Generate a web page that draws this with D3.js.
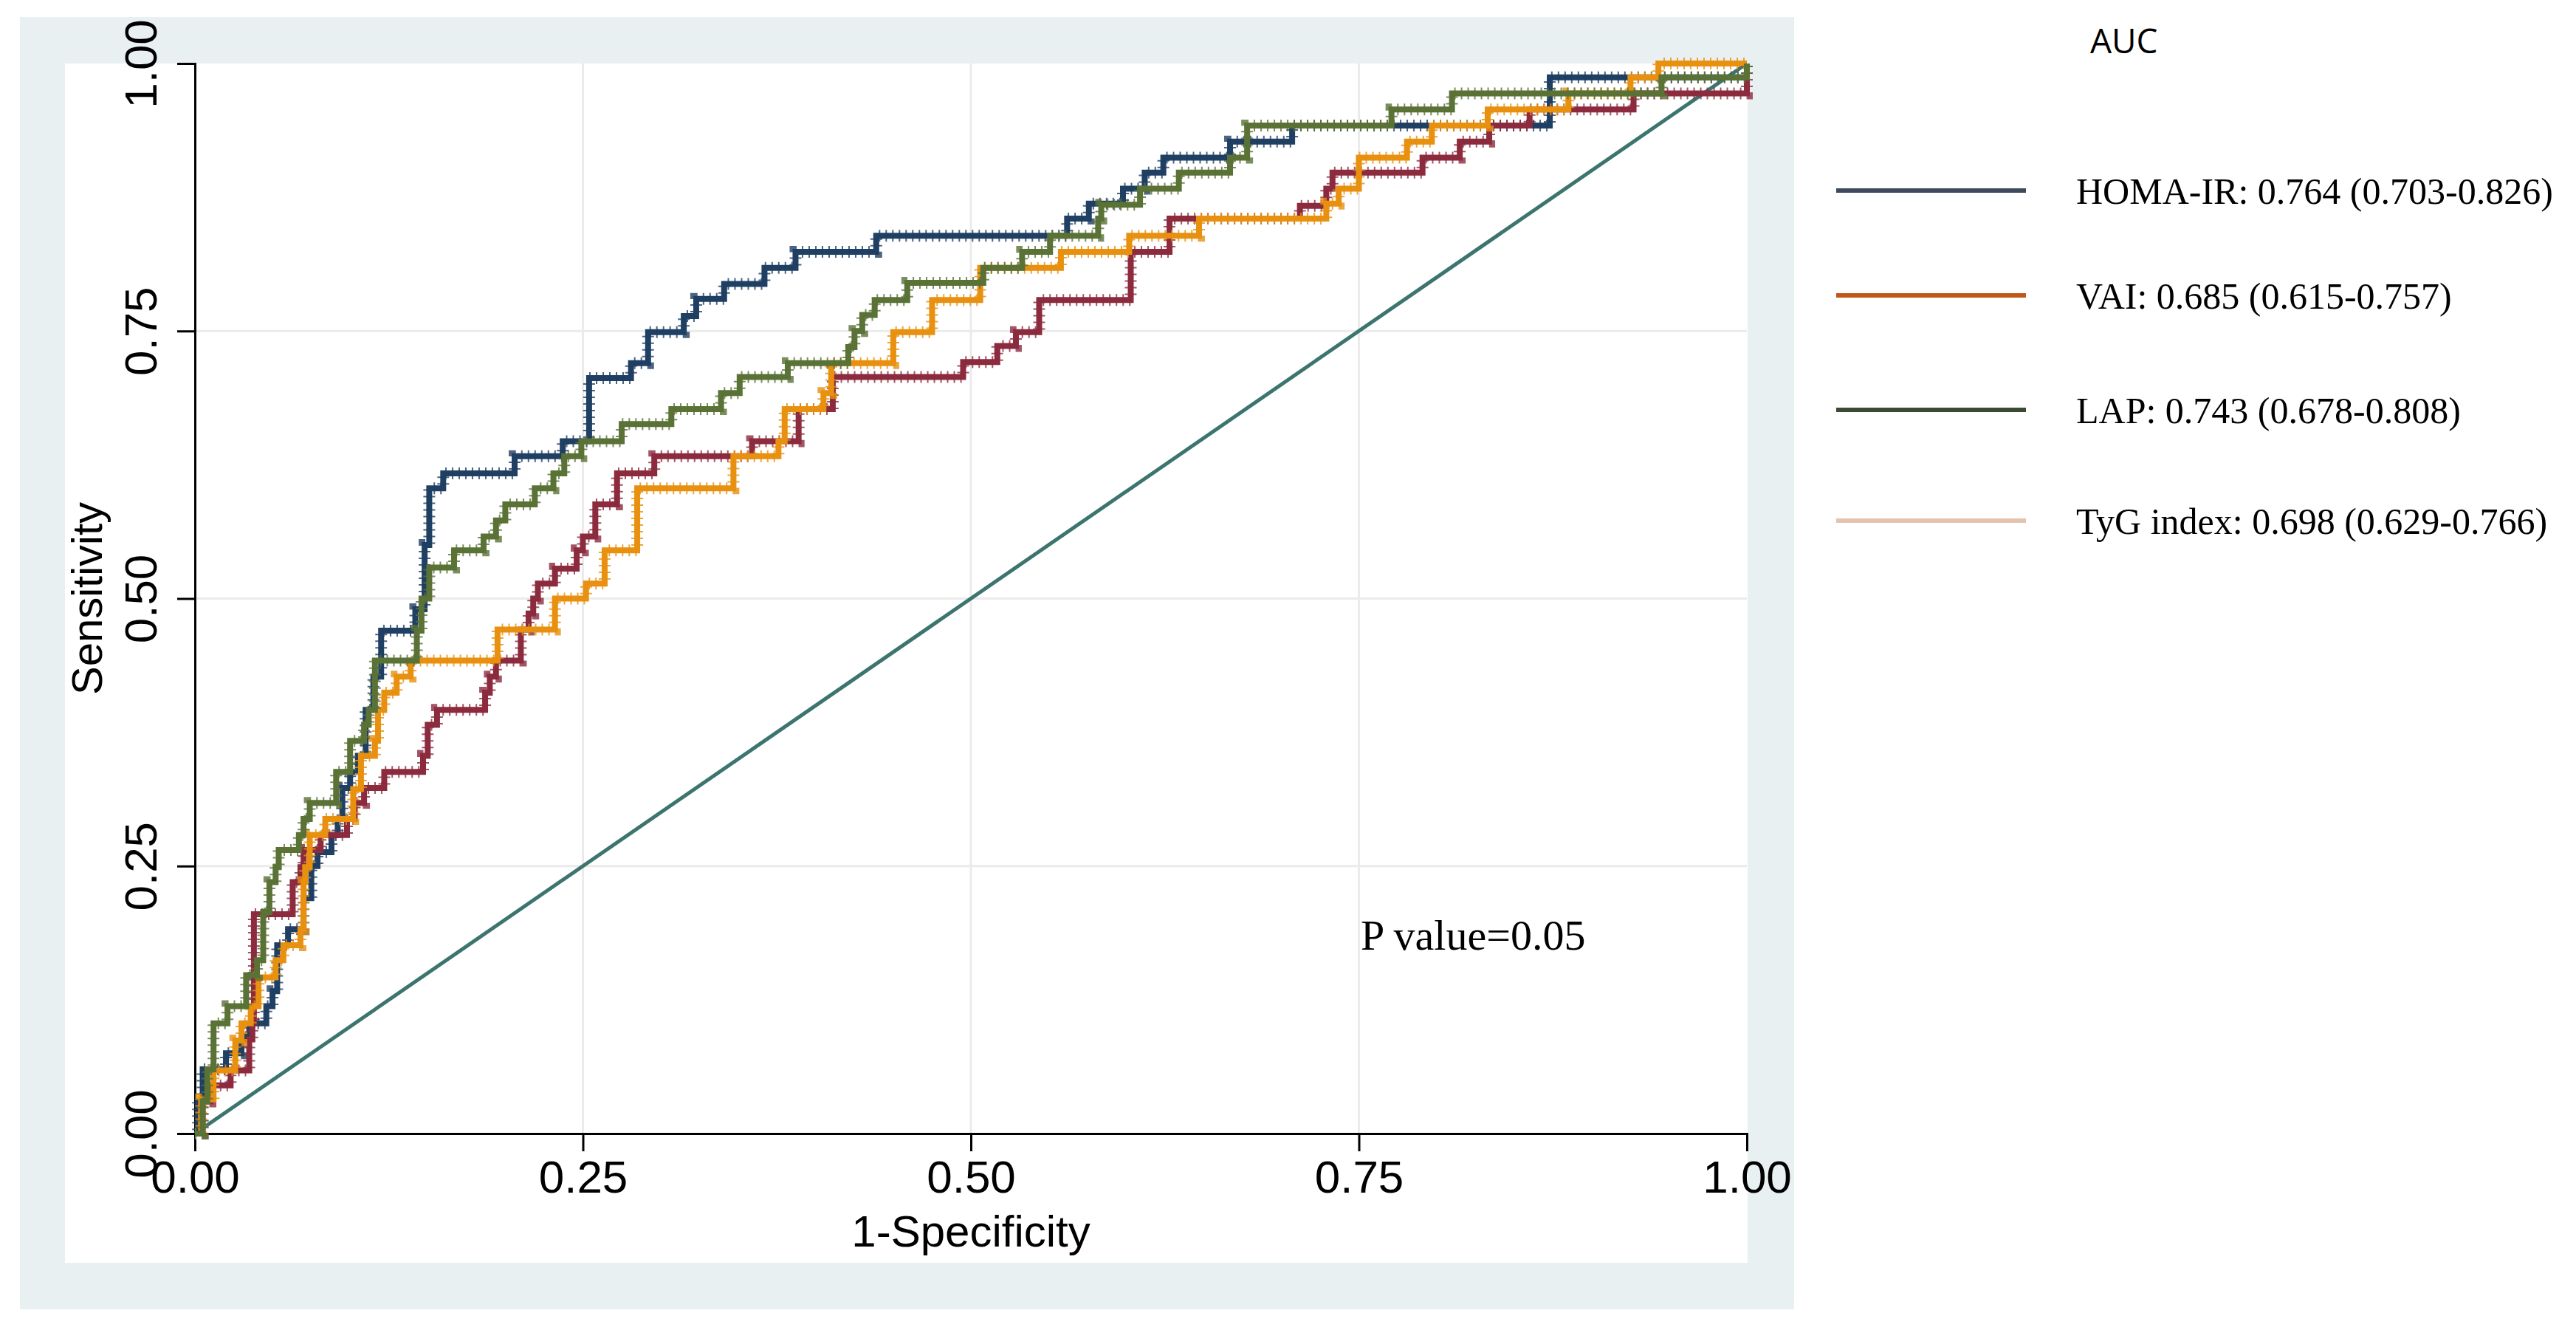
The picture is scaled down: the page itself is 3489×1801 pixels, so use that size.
<!DOCTYPE html>
<html>
<head>
<meta charset="utf-8">
<script src="https://cdn.jsdelivr.net/npm/d3@7"></script>
<style>
  body { margin: 0; background: #fff; }
  svg { display: block; }
</style>
</head>
<body>
<svg width="3489" height="1801"></svg>
<script>
// ROC step points: [1-specificity, sensitivity], each starts a horizontal run
const homaIR = [[0,0],[0.002,0.03],[0.005,0.06],[0.02,0.075],[0.03,0.09],[0.035,0.103],[0.046,0.119],[0.05,0.133],[0.053,0.176],[0.06,0.191],[0.07,0.22],[0.075,0.25],[0.079,0.263],[0.088,0.279],[0.092,0.294],[0.095,0.323],[0.1,0.338],[0.105,0.353],[0.11,0.396],[0.115,0.427],[0.12,0.47],[0.142,0.49],[0.148,0.55],[0.151,0.603],[0.16,0.617],[0.206,0.633],[0.237,0.647],[0.254,0.706],[0.281,0.72],[0.292,0.749],[0.315,0.764],[0.323,0.78],[0.341,0.794],[0.367,0.809],[0.387,0.824],[0.439,0.839],[0.562,0.855],[0.576,0.869],[0.598,0.883],[0.612,0.898],[0.624,0.912],[0.667,0.927],[0.707,0.942],[0.873,0.987],[1,1]];
const vai = [[0,0],[0.005,0.03],[0.01,0.045],[0.023,0.059],[0.035,0.088],[0.037,0.103],[0.038,0.205],[0.063,0.235],[0.068,0.249],[0.07,0.265],[0.081,0.279],[0.098,0.294],[0.103,0.309],[0.109,0.323],[0.122,0.338],[0.147,0.353],[0.15,0.382],[0.156,0.396],[0.187,0.412],[0.19,0.427],[0.194,0.442],[0.21,0.471],[0.215,0.486],[0.218,0.5],[0.221,0.514],[0.232,0.528],[0.246,0.545],[0.25,0.558],[0.258,0.588],[0.272,0.617],[0.296,0.633],[0.359,0.647],[0.389,0.677],[0.411,0.707],[0.495,0.721],[0.517,0.736],[0.529,0.749],[0.544,0.779],[0.603,0.824],[0.628,0.855],[0.712,0.867],[0.729,0.883],[0.733,0.898],[0.791,0.912],[0.815,0.927],[0.834,0.942],[0.86,0.957],[0.927,0.972],[1,1]];
const lap = [[0,0],[0.005,0.03],[0.008,0.06],[0.012,0.103],[0.021,0.119],[0.033,0.148],[0.04,0.162],[0.044,0.207],[0.048,0.235],[0.052,0.249],[0.054,0.265],[0.067,0.279],[0.07,0.294],[0.074,0.309],[0.091,0.338],[0.1,0.367],[0.109,0.382],[0.112,0.396],[0.116,0.442],[0.143,0.47],[0.146,0.5],[0.151,0.529],[0.167,0.545],[0.186,0.558],[0.194,0.573],[0.2,0.588],[0.219,0.603],[0.231,0.617],[0.238,0.633],[0.249,0.647],[0.275,0.663],[0.307,0.677],[0.339,0.692],[0.351,0.707],[0.382,0.72],[0.421,0.735],[0.425,0.75],[0.43,0.765],[0.438,0.779],[0.459,0.795],[0.508,0.809],[0.533,0.824],[0.551,0.839],[0.582,0.855],[0.584,0.868],[0.609,0.883],[0.634,0.898],[0.667,0.912],[0.678,0.942],[0.771,0.957],[0.81,0.972],[0.945,0.987],[1,1]];
const tyg = [[0,0],[0.004,0.032],[0.012,0.059],[0.026,0.087],[0.03,0.103],[0.036,0.119],[0.041,0.146],[0.052,0.162],[0.057,0.176],[0.068,0.191],[0.07,0.235],[0.071,0.249],[0.074,0.279],[0.084,0.294],[0.102,0.322],[0.107,0.353],[0.116,0.367],[0.118,0.396],[0.122,0.412],[0.13,0.427],[0.139,0.442],[0.195,0.471],[0.232,0.5],[0.252,0.514],[0.264,0.545],[0.285,0.603],[0.347,0.633],[0.376,0.647],[0.38,0.677],[0.405,0.692],[0.41,0.72],[0.45,0.749],[0.475,0.779],[0.506,0.809],[0.558,0.824],[0.602,0.839],[0.647,0.855],[0.729,0.869],[0.737,0.883],[0.75,0.912],[0.781,0.927],[0.797,0.942],[0.833,0.957],[0.885,0.972],[0.925,0.987],[0.943,1],[1,1]];
const reference = [[0,0],[1,1]];

const curves = [
  { name: "HOMA-IR", data: homaIR, color: "#1f3f63" },
  { name: "VAI", data: vai, color: "#8c2a3e" },
  { name: "TyG", data: tyg, color: "#e8900f" },
  { name: "LAP", data: lap, color: "#5a7236" }
];

const legendLabels = ["HOMA-IR: 0.764 (0.703-0.826)", "VAI: 0.685 (0.615-0.757)", "LAP: 0.743 (0.678-0.808)", "TyG index: 0.698 (0.629-0.766)"];
const legendColors = ["#3d4a5c", "#c0561a", "#3b4a34", "#e3c4ae"];
const ticks = [0, 0.25, 0.5, 0.75, 1];

const svg = d3.select("svg");
const x = d3.scaleLinear().domain([0, 1]).range([264, 2366]);
const y = d3.scaleLinear().domain([0, 1]).range([1535, 86]);

// backgrounds
svg.append("rect").attr("x", 27).attr("y", 23).attr("width", 2403).attr("height", 1750).attr("fill", "#e9f0f2");
svg.append("rect").attr("x", 88).attr("y", 86).attr("width", 2279).attr("height", 1624).attr("fill", "#fff");

// grid
const grid = svg.append("g").attr("stroke", "#ebebeb").attr("stroke-width", 3);
[0.25, 0.5, 0.75].forEach(t => {
  grid.append("line").attr("x1", x(t)).attr("x2", x(t)).attr("y1", y(0)).attr("y2", y(1));
  grid.append("line").attr("x1", x(0)).attr("x2", x(1)).attr("y1", y(t)).attr("y2", y(t));
});

// axes
const xAxis = svg.append("g").attr("transform", `translate(0,${y(0)})`)
  .call(d3.axisBottom(x).tickValues(ticks).tickFormat(d3.format(".2f")).tickSize(24).tickPadding(12));
const yAxis = svg.append("g").attr("transform", `translate(${x(0)},0)`)
  .call(d3.axisLeft(y).tickValues(ticks).tickFormat(d3.format(".2f")).tickSize(24).tickPadding(14));
[xAxis, yAxis].forEach(a => {
  a.select(".domain").attr("stroke", "#000").attr("stroke-width", 3);
  a.selectAll(".tick line").attr("stroke", "#000").attr("stroke-width", 3);
  a.selectAll("text").attr("font-family", "Liberation Sans, Arial").attr("font-size", 62).attr("fill", "#000");
});
yAxis.selectAll(".tick text")
  .attr("transform", "rotate(-90)")
  .attr("text-anchor", "middle")
  .attr("x", 0).attr("y", -52).attr("dy", 0);

svg.append("text").attr("x", x(0.5)).attr("y", 1688).attr("text-anchor", "middle")
  .attr("font-family", "Liberation Sans, Arial").attr("font-size", 60).text("1-Specificity");
svg.append("text").attr("transform", `translate(138,${y(0.5)}) rotate(-90)`).attr("text-anchor", "middle")
  .attr("font-family", "Liberation Sans, Arial").attr("font-size", 58).text("Sensitivity");

// reference diagonal
const line = d3.line().x(d => x(d[0])).y(d => y(d[1]));
svg.append("path").attr("d", line(reference)).attr("fill", "none").attr("stroke", "#3c7470").attr("stroke-width", 5);

// ROC curves
const step = d3.line().x(d => x(d[0])).y(d => y(d[1])).curve(d3.curveStepAfter);
curves.forEach(c => {
  svg.append("path").attr("d", step(c.data)).attr("fill", "none")
    .attr("stroke", c.color).attr("stroke-width", 8);
  svg.append("path").attr("d", step(c.data)).attr("fill", "none")
    .attr("stroke", c.color).attr("stroke-width", 16).attr("stroke-dasharray", "2 7").attr("opacity", 0.8);
});

svg.append("text").attr("x", 1843).attr("y", 1286).attr("font-family", "Liberation Serif, Times New Roman")
  .attr("font-size", 58).text("P value=0.05");

// legend
svg.append("text").attr("x", 2831).attr("y", 72).attr("font-family", "Open Sans, Liberation Sans")
  .attr("font-size", 46).text("AUC");
const legY = [258, 400, 555, 705];
legendLabels.forEach((lab, i) => {
  svg.append("line").attr("x1", 2487).attr("x2", 2744).attr("y1", legY[i]).attr("y2", legY[i])
    .attr("stroke", legendColors[i]).attr("stroke-width", 6);
  svg.append("text").attr("x", 2812).attr("y", legY[i] + 18).attr("font-family", "Liberation Serif, Times New Roman")
    .attr("font-size", 50).text(lab);
});
</script>
</body>
</html>
